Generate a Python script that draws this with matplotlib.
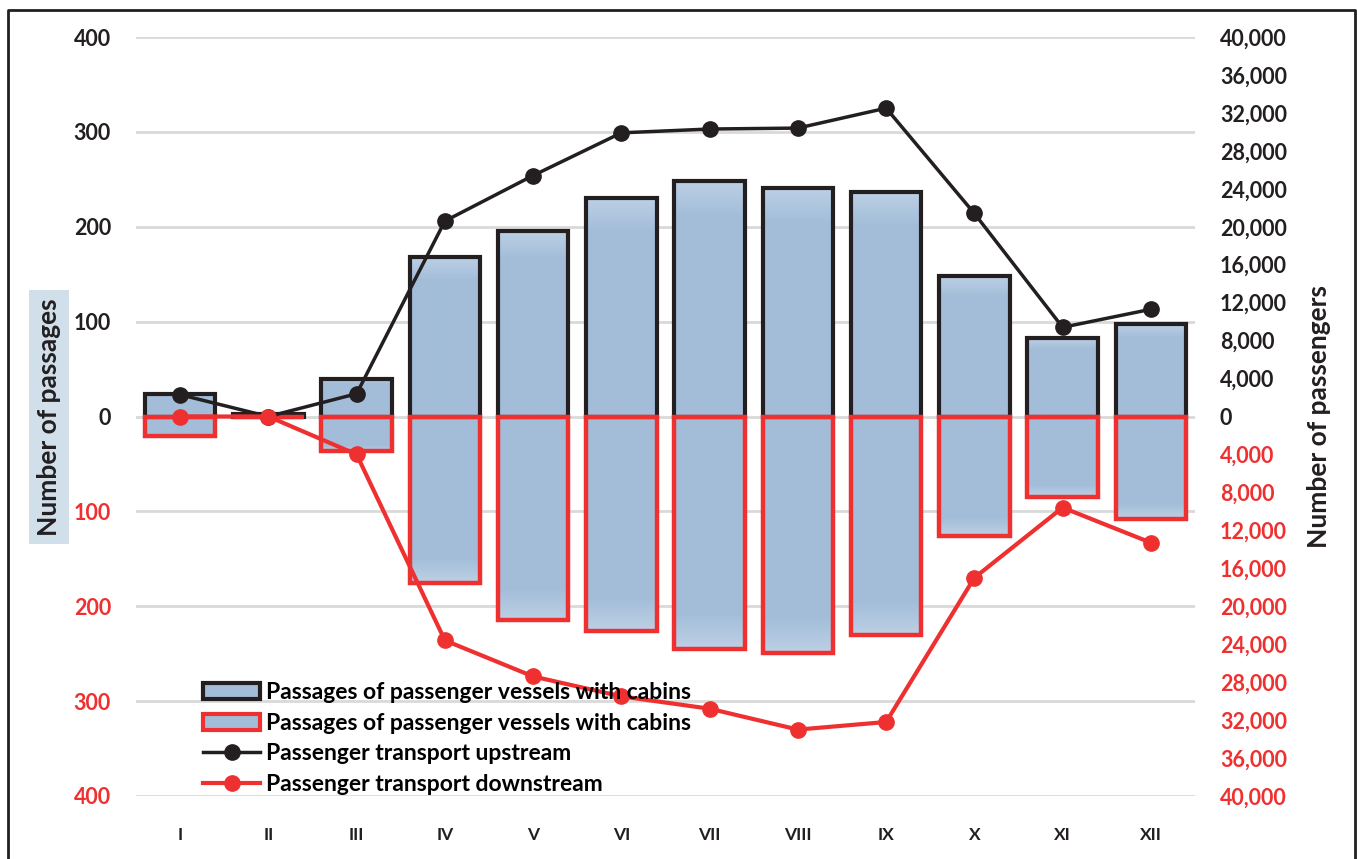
import matplotlib

matplotlib.use("Agg")
import matplotlib.pyplot as plt
import numpy as np
from matplotlib.colors import LinearSegmentedColormap
from matplotlib.lines import Line2D
from matplotlib.patches import Patch
from matplotlib.ticker import FixedLocator, FuncFormatter

plt.rcParams["font.family"] = ["Lato", "DejaVu Sans"]
plt.rcParams["font.weight"] = "bold"

# data
months = ["I", "II", "III", "IV", "V", "VI", "VII", "VIII", "IX", "X", "XI", "XII"]
passages_up = [24, 3, 39, 168, 195, 230, 248, 241, 237, 148, 83, 98]
passages_down = [21, 1, 36, 175, 215, 226, 245, 249, 230, 126, 85, 108]
passengers_up = [2300, 0, 2400, 20600, 25400, 29900, 30300, 30400, 32500, 21400, 9400, 11300]
passengers_down = [0, 0, 4000, 23600, 27400, 29500, 30800, 33000, 32200, 17000, 9600, 13300]

BLACK = "#231f20"
RED = "#ee3130"
BLUE = "#a3bdd9"
BLUE_LIGHT = "#bcd0e5"
GRID = "#d9d9d9"

W, H = 1357, 859
fig = plt.figure(figsize=(W / 100, H / 100), dpi=100)
ax = fig.add_axes([136 / W, (H - 796) / H, (1195 - 136) / W, (796 - 37) / H])

x = np.arange(len(months))
width = 0.8

# light edge only near the outer end of each bar
grad_up = LinearSegmentedColormap.from_list(
    "g_up", [(0, BLUE), (0.85, BLUE), (1, BLUE_LIGHT)])
grad_dn = LinearSegmentedColormap.from_list(
    "g_dn", [(0, BLUE_LIGHT), (0.15, BLUE), (1, BLUE)])


def gradient_bars(bars, cmap):
    for b in bars:
        x0, y0 = b.get_x(), b.get_y()
        w, h = b.get_width(), b.get_height()
        if h == 0:
            continue
        g = np.linspace(0, 1, 200).reshape(-1, 1)
        ymin, ymax = min(y0, y0 + h), max(y0, y0 + h)
        im = ax.imshow(g, cmap=cmap, aspect="auto", origin="lower",
                       extent=[x0, x0 + w, ymin, ymax], zorder=2)
        im.set_clip_path(b)


bars_up = ax.bar(x, passages_up, width, facecolor="none", edgecolor=BLACK,
                 linewidth=3, zorder=3)
gradient_bars(bars_up, grad_up)
bars_dn = ax.bar(x, [-v for v in passages_down], width, facecolor="none",
                 edgecolor=RED, linewidth=3.2, zorder=4)
gradient_bars(bars_dn, grad_dn)

ax.set_xlim(-0.5, len(months) - 0.5)
ax.set_ylim(-400, 400)
ax.yaxis.set_major_locator(FixedLocator(range(-400, 401, 100)))
ax.yaxis.set_major_formatter(FuncFormatter(lambda v, p: f"{abs(int(v))}"))
ax.grid(axis="y", color=GRID, linewidth=2, zorder=0)
ax.set_axisbelow(True)
ax.set_xticks(x)
ax.set_xticklabels(months, fontsize=12.5, color=BLACK)
ax.tick_params(axis="x", length=0, pad=22)
ax.tick_params(axis="y", length=0, pad=18, labelsize=15.5)
for t in ax.get_yticklabels():
    t.set_color(RED if t.get_position()[1] < 0 else BLACK)
for s in ax.spines.values():
    s.set_visible(False)

ax2 = ax.twinx()
ax2.plot(x, passengers_up, color=BLACK, linewidth=2.5, marker="o",
         markersize=11, zorder=5)
ax2.plot(x, [-v for v in passengers_down], color=RED, linewidth=3,
         marker="o", markersize=11, zorder=5)
ax2.set_ylim(-40000, 40000)
ax2.yaxis.set_major_locator(FixedLocator(range(-40000, 40001, 4000)))
ax2.yaxis.set_major_formatter(FuncFormatter(lambda v, p: f"{abs(int(v)):,}"))
ax2.tick_params(axis="y", length=0, pad=18, labelsize=15.5)
for t in ax2.get_yticklabels():
    t.set_color(RED if t.get_position()[1] < 0 else BLACK)
for s in ax2.spines.values():
    s.set_visible(False)

fig.text(49 / W, (H - 417) / H, "Number of passages", rotation=90, fontsize=19,
         ha="center", va="center", color=BLACK,
         bbox=dict(boxstyle="square,pad=0.3", facecolor="#d0dfea", edgecolor="none"))
fig.text(1319 / W, (H - 417) / H, "Number of passengers", rotation=90, fontsize=19,
         ha="center", va="center", color=BLACK)

handles = [
    Patch(facecolor=BLUE, edgecolor=BLACK, linewidth=3),
    Patch(facecolor=BLUE, edgecolor=RED, linewidth=3),
    Line2D([], [], color=BLACK, linewidth=2.5, marker="o", markersize=11),
    Line2D([], [], color=RED, linewidth=3, marker="o", markersize=11),
]
labels = [
    "Passages of passenger vessels with cabins",
    "Passages of passenger vessels with cabins",
    "Passenger transport upstream",
    "Passenger transport downstream",
]
ax2.legend(handles, labels, loc="upper left", bbox_to_anchor=(203 / W, (H - 682) / H),
           bbox_transform=fig.transFigure, frameon=False, fontsize=16.5,
           handlelength=2.5, handleheight=0.7, handletextpad=0.25, labelspacing=0.42,
           borderpad=0, borderaxespad=0)

# outer frame
fig.add_artist(Line2D([8 / W, 8 / W, 1355 / W, 1355 / W], [0, 1 - 10 / H, 1 - 10 / H, 0],
                      transform=fig.transFigure, color=BLACK, linewidth=2))

fig.savefig("out.png", dpi=100)
